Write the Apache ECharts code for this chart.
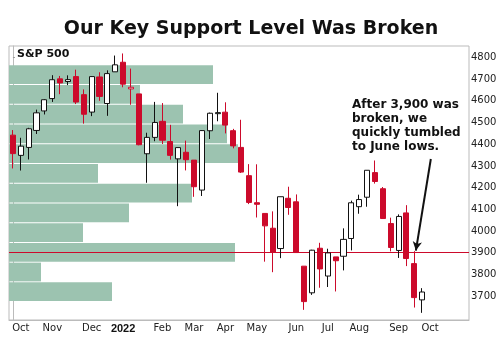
<!DOCTYPE html>
<html><head><meta charset="utf-8">
<script src="https://cdn.jsdelivr.net/npm/echarts@6/dist/echarts.min.js"></script>
<style>html,body{margin:0;padding:0;background:#fff}#c{width:502px;height:363px}</style>
</head><body><div id="c"></div>
<script>
// Weekly S&P 500 candles (week starting)
const weeks = ['2021-09-27','2021-10-04','2021-10-11','2021-10-18','2021-10-25','2021-11-01','2021-11-08','2021-11-15','2021-11-22','2021-11-29','2021-12-06','2021-12-13','2021-12-20','2021-12-27','2022-01-03','2022-01-10','2022-01-18','2022-01-24','2022-01-31','2022-02-07','2022-02-14','2022-02-22','2022-02-28','2022-03-07','2022-03-14','2022-03-21','2022-03-28','2022-04-04','2022-04-11','2022-04-18','2022-04-25','2022-05-02','2022-05-09','2022-05-16','2022-05-23','2022-05-31','2022-06-06','2022-06-13','2022-06-21','2022-06-27','2022-07-05','2022-07-11','2022-07-18','2022-07-25','2022-08-01','2022-08-08','2022-08-15','2022-08-22','2022-08-29','2022-09-06','2022-09-12','2022-09-19','2022-09-26'];
const opens = [4442.12,4348.84,4385.44,4463.72,4553.69,4610.62,4701.48,4689.30,4712.00,4628.75,4548.37,4710.30,4587.90,4733.99,4778.14,4655.34,4632.24,4356.32,4431.79,4505.75,4412.61,4332.74,4363.14,4327.01,4188.82,4462.40,4541.09,4547.97,4462.64,4385.63,4255.34,4130.61,4081.27,4013.02,3919.42,4151.09,4134.72,3838.15,3715.31,3920.76,3792.61,3880.94,3883.79,3965.72,4112.38,4155.93,4269.37,4195.08,4034.58,3910.51,4083.67,3849.91,3682.72];
const highs = [4465.48,4429.97,4475.82,4559.67,4608.08,4718.50,4714.92,4717.75,4743.83,4652.94,4713.57,4731.99,4740.74,4808.93,4818.62,4748.83,4632.24,4453.23,4595.31,4590.03,4489.55,4385.04,4416.78,4327.01,4465.40,4546.03,4637.30,4593.45,4471.03,4512.94,4308.45,4307.66,4081.27,4090.72,4158.49,4204.31,4168.78,3838.15,3913.65,3945.86,3918.50,3880.94,4012.44,4140.15,4167.66,4280.47,4325.28,4203.04,4061.70,4076.81,4119.28,3907.07,3736.74];
const lows = [4288.52,4278.94,4329.92,4447.47,4537.36,4595.06,4630.86,4672.78,4585.43,4495.12,4529.75,4600.22,4531.10,4733.99,4662.74,4582.24,4395.34,4222.62,4414.02,4401.41,4329.37,4114.65,4279.54,4157.87,4161.72,4424.30,4506.01,4450.04,4381.34,4267.62,4124.28,4062.51,3858.87,3810.32,3875.13,4074.95,3900.16,3636.87,3705.68,3738.67,3742.06,3721.56,3818.63,3910.74,4079.81,4112.09,4218.70,4057.66,3906.21,3876.01,3838.41,3647.42,3623.02];
const closes = [4357.04,4391.34,4471.37,4544.90,4605.38,4697.53,4682.85,4697.96,4594.62,4538.43,4712.02,4620.64,4725.79,4766.18,4677.03,4662.85,4397.94,4431.85,4500.53,4418.64,4348.87,4384.65,4328.87,4204.31,4463.12,4543.06,4545.86,4488.28,4392.59,4271.78,4131.93,4123.34,4023.89,3901.36,4158.24,4108.54,3900.86,3674.84,3911.74,3825.33,3899.38,3863.16,3961.63,4130.29,4145.19,4280.15,4228.48,4057.66,3924.26,4067.36,3873.33,3693.23,3719.04];

// Volume-at-price profile: 12 price bins (edges) and relative volume per bin
const priceBinEdges = [3674.8,3765.8,3856.7,3947.7,4038.6,4129.6,4220.5,4311.5,4402.4,4493.3,4584.3,4675.2,4766.2];
const binVolumes = [103,32,226,74,120,183,89,229,218,174,131,204];

// Axis labels
const monthTickWeeks = [1,5,10,14,19,23,27,31,36,40,44,49,53];
const monthTickLabels = ['Oct','Nov','Dec','2022','Feb','Mar','Apr','May','Jun','Jul','Aug','Sep','Oct'];
const priceTicks = [3700,3800,3900,4000,4100,4200,4300,4400,4500,4600,4700,4800];
const supportLevel = 3900;
const annotationArrow = {from:[53.1, 4332], to:[51.2, 3910]};

const RED = '#cc0a2b', BLACK = '#111', GREEN = '#9cc3b0';
const FONT = 'DejaVu Sans';

const candleData = weeks.map((w, i) => {
  const o = opens[i], c = closes[i];
  const ref = i > 0 ? closes[i - 1] : o;
  const col = c >= ref ? BLACK : RED;
  const fill = c > o ? '#fff' : col;
  return { value: [i, o, c, lows[i], highs[i]],
    itemStyle: { color: fill, color0: fill, borderColor: col, borderColor0: col, borderWidth: 1 } };
});

const chart = echarts.init(document.getElementById('c'), null, {renderer: 'canvas'});
chart.setOption({
  animation: false,
  backgroundColor: '#fff',
  title: { text: 'Our Key Support Level Was Broken', left: 'center', top: 15,
    textStyle: { fontFamily: FONT, fontSize: 19, fontWeight: 'bold', color: '#111' } },
  grid: { left: 9, right: 33, top: 46, bottom: 43, show: true, borderColor: '#bbb', borderWidth: 1, backgroundColor: 'transparent' },
  xAxis: [{
    type: 'value', min: -0.5, max: 57.95,
    splitLine: { show: false },
    axisLine: { show: true, lineStyle: { color: '#bbb' } },
    axisTick: { show: false },
    axisLabel: { customValues: monthTickWeeks, margin: 3,
      fontFamily: FONT, fontSize: 10, color: '#222',
      formatter: (v) => { const k = monthTickWeeks.indexOf(Math.round(v)); const t = monthTickLabels[k];
        return t === '2022' ? '{b|2022}' : t; },
      rich: { b: { fontFamily: 'Liberation Sans', fontWeight: 'bold', fontSize: 11, color: '#111' } } }
  }, {
    type: 'value', min: 0, max: 460, show: false
  }],
  yAxis: [{
    type: 'value', position: 'right', min: 3590, max: 4853, scale: true,
    splitLine: { show: false },
    axisLine: { show: true, lineStyle: { color: '#bbb' } },
    axisTick: { show: true, length: 2, customValues: priceTicks, lineStyle: { color: '#999' } },
    axisLabel: { customValues: priceTicks, margin: 2, fontFamily: FONT, fontSize: 10, color: '#222',
      formatter: (v) => String(Math.round(v)) }
  }],
  series: [{
    type: 'custom', xAxisIndex: 1, yAxisIndex: 0, z: 1, silent: true,
    data: binVolumes.map((v, i) => [v, priceBinEdges[i], priceBinEdges[i + 1]]),
    encode: { x: 0, y: [1, 2] },
    renderItem: (params, api) => {
      const a = api.coord([0, api.value(1)]);
      const b = api.coord([api.value(0), api.value(2)]);
      return { type: 'rect', shape: { x: a[0], y: b[1] + 0.5, width: b[0] - a[0], height: a[1] - b[1] - 1 },
        style: { fill: GREEN } };
    }
  }, {
    type: 'candlestick', xAxisIndex: 0, yAxisIndex: 0, z: 3,
    barWidth: 5.6,
    encode: { x: 0, y: [1, 2, 3, 4] },
    data: candleData,
    markLine: {
      silent: true, symbol: ['none', 'none'], label: { show: false }, z: 2,
      data: [
        { yAxis: supportLevel, lineStyle: { color: RED, width: 1, type: 'solid' } },
        [ { coord: annotationArrow.from, symbol: 'none', lineStyle: { color: BLACK, width: 2, type: 'solid' } },
          { coord: annotationArrow.to, symbol: 'arrow', symbolSize: [7, 9] } ]
      ]
    }
  }],
  graphic: [
    { type: 'text', left: 17, top: 49, style: { text: 'S&P 500', font: 'bold 11px "DejaVu Sans"', fill: '#111' } },
    { type: 'text', left: 352, top: 98, style: { text: 'After 3,900 was\nbroken, we\nquickly tumbled\nto June lows.',
      font: 'bold 12px "DejaVu Sans"', lineHeight: 14, fill: '#111' } }
  ]
});
</script></body></html>
